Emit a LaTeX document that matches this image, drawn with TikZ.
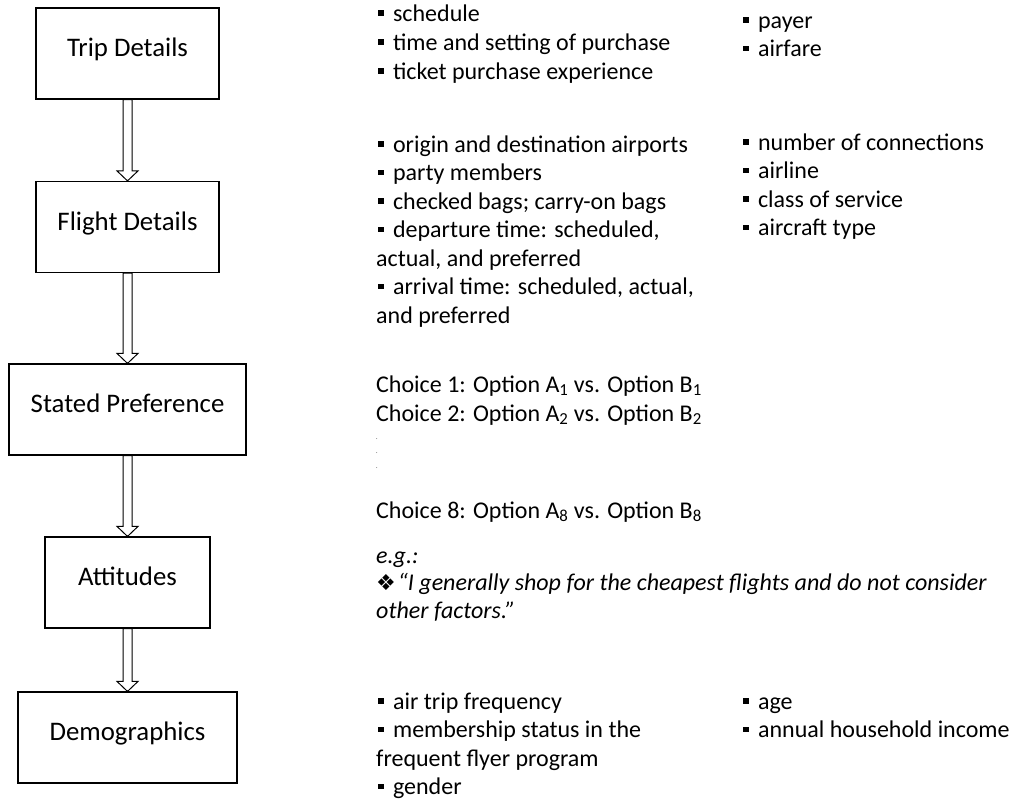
\documentclass[tikz,border=0pt]{standalone}
\usepackage{fontspec}
\setmainfont{Carlito}
\newfontfamily\dejavu{DejaVu Sans}
\usetikzlibrary{calc}
\newcommand\bul{\rule[0.21em]{0.24em}{0.24em}\hspace{0.38em}}
\newcommand\blockarrow[2]{%
  \path[blk] let \p1=(#1.south), \p2=(#2.north) in
    (\x1-4.5pt,\y1) -- (\x1-4.5pt,\y2+10pt) -- (\x1-10.5pt,\y2+10pt) -- (\x1,\y2)
    -- (\x1+10.5pt,\y2+10pt) -- (\x1+4.5pt,\y2+10pt) -- (\x1+4.5pt,\y1) -- cycle;}
\tikzset{
  box/.style={draw, line width=1.2pt, inner sep=0pt, minimum height=91pt,
    font=\fontsize{26.8}{30}\selectfont, text height=0.64em, text depth=0pt},
  blk/.style={draw, line width=1pt, fill=white},
  lst/.style={anchor=base west, inner sep=0pt, font=\fontsize{24}{28}\selectfont},
  ital/.style={lst, font=\fontsize{24}{28}\selectfont\itshape},
  tinydot/.style={anchor=base west, inner sep=0pt, font=\fontsize{6}{6}\selectfont}
}
\begin{document}
\begin{tikzpicture}[x=1pt,y=-1pt]
\useasboundingbox (0,0) rectangle (1015,803);
% boxes
\node[box, minimum width=183pt] (trip) at (127.5,53.5) {Trip Details};
\node[box, minimum width=183pt] (flight) at (127.5,227) {Flight Details};
\node[box, minimum width=237pt] (stated) at (127.5,409.5) {Stated Preference};
\node[box, minimum width=165pt] (att) at (127.5,582.5) {Attitudes};
\node[box, minimum width=219pt] (demo) at (127.5,737.5) {Demographics};
% arrows
\blockarrow{trip}{flight}
\blockarrow{flight}{stated}
\blockarrow{stated}{att}
\blockarrow{att}{demo}
% trip details
\node[lst] (t1) at (378,21) {\bul schedule};
\node[lst] (t2) at (378,50) {\bul time and setting of purchase};
\node[lst] (t3) at (378,79) {\bul ticket purchase experience};
\node[lst] (t4) at (743,28) {\bul payer};
\node[lst] (t5) at (743,56.5) {\bul airfare};
% flight details
\node[lst] (f1) at (378,152) {\bul origin and destination airports};
\node[lst] (f2) at (378,180.5) {\bul party members};
\node[lst] (f3) at (378,209) {\bul checked bags; carry-on bags};
\node[lst] (f4) at (378,237.5) {\bul departure time: scheduled,};
\node[lst] (f5) at (376,266) {actual, and preferred};
\node[lst] (f6) at (378,294.5) {\bul arrival time: scheduled, actual,};
\node[lst] (f7) at (376,323) {and preferred};
\node[lst] (g1) at (743,150) {\bul number of connections};
\node[lst] (g2) at (743,178.5) {\bul airline};
\node[lst] (g3) at (743,207) {\bul class of service};
\node[lst] (g4) at (743,235.5) {\bul aircraft type};
% stated preference
\node[lst] (s1) at (376,392) {Choice 1: Option A\textsubscript{1} vs. Option B\textsubscript{1}};
\node[lst] (s2) at (376,421) {Choice 2: Option A\textsubscript{2} vs. Option B\textsubscript{2}};
\node[tinydot] (d1) at (376,439) {.};
\node[tinydot] (d2) at (376,453) {.};
\node[tinydot] (d3) at (376,468) {.};
\node[lst] (s3) at (376,518) {Choice 8: Option A\textsubscript{8} vs. Option B\textsubscript{8}};
% attitudes
\node[ital] (a1) at (376,563) {e.g.:};
\node[ital] (a2) at (376,590) {{\dejavu\upshape\fontsize{22}{22}\selectfont ❖}\hspace{2pt}“I generally shop for the cheapest flights and do not consider};
\node[ital] (a3) at (376,618) {other factors.”};
% demographics
\node[lst] (m1) at (378,709) {\bul air trip frequency};
\node[lst] (m2) at (378,737.5) {\bul membership status in the};
\node[lst] (m3) at (376,766) {frequent flyer program};
\node[lst] (m4) at (378,794.5) {\bul gender};
\node[lst] (n1) at (743,709) {\bul age};
\node[lst] (n2) at (743,737.5) {\bul annual household income};
\end{tikzpicture}
\end{document}
